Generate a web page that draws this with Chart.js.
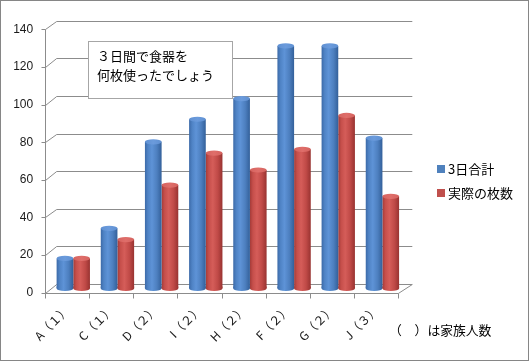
<!DOCTYPE html>
<html><head><meta charset="utf-8">
<script src="https://cdn.jsdelivr.net/npm/chart.js@4.4.1/dist/chart.umd.min.js"></script>
<style>html,body{margin:0;padding:0;background:#fff}canvas{display:block}</style>
</head><body>
<canvas id="c" width="529" height="363"></canvas>
<script>
const categories = ["A（１）","C（１）","D（２）","I（２）","H（２）","F（２）","G（２）","J（３）"];
const series1Name = "3日合計";
const series2Name = "実際の枚数";
const totals3Days = [16, 32, 78, 90, 101, 129, 129, 80];
const actualCounts = [16, 26, 55, 72, 63, 74, 92, 49];
const yTicks = [0, 20, 40, 60, 80, 100, 120, 140];
const titleLines = ["３日間で食器を", "何枚使ったでしょう"];
const noteText = "（　）は家族人数";

const CAT_PCT = 0.755;
const depth = {frontDx: -6.2, frontDy: 4.2, backDxL: 5.5, backDxR: 7.8, backDy: -4.5};
const blueStops = [[0,'#3c6aa8'],[0.18,'#4f83c5'],[0.42,'#5e93d7'],[0.72,'#4d7fbf'],[1,'#33609a']];
const redStops  = [[0,'#a43b38'],[0.18,'#c64f4b'],[0.42,'#d55d59'],[0.72,'#c04a47'],[1,'#983331']];
const blueTop = '#5f90d2', redTop = '#d5635f';
const JP = "'Noto Sans CJK JP', sans-serif";

function cylGradient(g2d, x0, w, stops){
  const g = g2d.createLinearGradient(x0, 0, x0 + w, 0);
  stops.forEach(s => g.addColorStop(s[0], s[1]));
  return g;
}
function barFill(c, stops, fallback){
  const ch = c.chart, xs = ch.scales && ch.scales.x;
  if (!ch.chartArea || !xs || c.dataIndex === undefined) return fallback;
  const catW = xs.width / categories.length;
  const size = catW * CAT_PCT, bw = size / 2;
  const cx = xs.getPixelForValue(c.dataIndex);
  const x0 = cx - size / 2 + bw * c.datasetIndex;
  return cylGradient(ch.ctx, x0, bw, stops);
}

const wallPlugin = {
  id: 'walls',
  beforeDatasetsDraw(chart){
    const {ctx, chartArea: ca, scales: {y: ys}} = chart;
    const fl = ca.left + depth.frontDx, fr = ca.right + depth.frontDx;
    const bl = ca.left + depth.backDxL, br = ca.right + depth.backDxR;
    ctx.save();
    ctx.strokeStyle = '#8c8c8c'; ctx.lineWidth = 1;
    ctx.beginPath();
    const xl = Math.round(fl) + 0.5;
    yTicks.forEach(v => {
      const ym = ys.getPixelForValue(v);
      const yf = Math.round(ym + depth.frontDy) + 0.5, yb = Math.round(ym + depth.backDy) + 0.5;
      ctx.moveTo(xl, yf); ctx.lineTo(bl, yb); ctx.lineTo(br, yb);
      ctx.moveTo(xl - 4, yf); ctx.lineTo(xl, yf);
    });
    const y0f = Math.round(ys.getPixelForValue(0) + depth.frontDy) + 0.5;
    const y0b = Math.round(ys.getPixelForValue(0) + depth.backDy) + 0.5;
    const ytf = Math.round(ys.getPixelForValue(yTicks[yTicks.length-1]) + depth.frontDy) + 0.5;
    ctx.moveTo(xl, ytf); ctx.lineTo(xl, y0f);
    ctx.moveTo(xl, y0f); ctx.lineTo(fr, y0f); ctx.lineTo(br, y0b);
    const n = categories.length;
    for (let k = 0; k <= n; k++) {
      const x = Math.round(fl + (fr - fl) * k / n) + 0.5;
      ctx.moveTo(x, y0f); ctx.lineTo(x, y0f + 5);
    }
    ctx.stroke();
    ctx.restore();
  },
  afterDatasetsDraw(chart){
    const ctx = chart.ctx;
    const ry = 2.6;
    chart.data.datasets.forEach((ds, di) => {
      const meta = chart.getDatasetMeta(di);
      const stops = di === 0 ? blueStops : redStops;
      const topC = di === 0 ? blueTop : redTop;
      meta.data.forEach(el => {
        const w = el.width, x0 = el.x - w / 2;
        ctx.save();
        ctx.fillStyle = cylGradient(ctx, x0, w, stops);
        ctx.beginPath();
        ctx.rect(x0, el.base - 2, w, 2);
        ctx.ellipse(el.x, el.base, w / 2, ry, 0, 0, Math.PI);
        ctx.fill();
        const tg = ctx.createLinearGradient(x0, 0, x0 + w, 0);
        tg.addColorStop(0, topC); tg.addColorStop(0.5, di === 0 ? '#6b9bdc' : '#df6e6a'); tg.addColorStop(1, topC);
        ctx.fillStyle = tg;
        ctx.beginPath();
        ctx.ellipse(el.x, el.y, w / 2, ry, 0, 0, Math.PI * 2);
        ctx.fill();
        ctx.restore();
      });
    });
  },
  afterDraw(chart){
    const ctx = chart.ctx;
    ctx.save();
    // title box
    ctx.fillStyle = '#fff';
    ctx.fillRect(88, 41, 145, 58);
    ctx.strokeStyle = '#a6a6a6'; ctx.lineWidth = 1;
    ctx.strokeRect(88.5, 41.5, 144, 57);
    ctx.fillStyle = '#000';
    ctx.font = "13px " + JP;
    ctx.textBaseline = 'middle'; ctx.textAlign = 'left';
    ctx.fillText(titleLines[0], 97, 56.5);
    ctx.fillText(titleLines[1], 97, 75);
    // legend
    const items = [[series1Name, '#4F81BD', 169], [series2Name, '#C0504D', 193]];
    items.forEach(it => {
      ctx.fillStyle = it[1];
      ctx.fillRect(437, it[2] - 4, 8, 8);
      ctx.fillStyle = '#000';
      ctx.fillText(it[0], 448, it[2]);
    });
    // note
    ctx.font = "12.8px " + JP;
    ctx.fillText(noteText, 389, 330);
    // outer border
    ctx.strokeStyle = '#868686';
    ctx.strokeRect(0.5, 0.5, 528, 360);
    ctx.restore();
  }
};

new Chart(document.getElementById('c'), {
  type: 'bar',
  data: {
    labels: categories,
    datasets: [
      {label: series1Name, data: totals3Days, backgroundColor: c => barFill(c, blueStops, '#4F81BD'), borderWidth: 0},
      {label: series2Name, data: actualCounts, backgroundColor: c => barFill(c, redStops, '#C0504D'), borderWidth: 0}
    ]
  },
  options: {
    responsive: false,
    animation: false,
    devicePixelRatio: 1,
    layout: {padding: {left: 0, top: 23.1, right: 124.5, bottom: 0}},
    plugins: {legend: {display: false}, tooltip: {enabled: false}},
    datasets: {bar: {categoryPercentage: CAT_PCT, barPercentage: 1.0}},
    scales: {
      x: {
        grid: {display: false, drawTicks: false},
        border: {display: false},
        ticks: {
          autoSkip: false, minRotation: 45, maxRotation: 45, padding: 14, labelOffset: -6,
          color: '#1a1a1a', font: {size: 12, family: "'Noto Sans CJK JP', sans-serif"}
        },
        afterFit: s => { s.height = 74.5; }
      },
      y: {
        min: 0, max: 140,
        grid: {display: false, drawTicks: false},
        border: {display: false},
        ticks: {
          stepSize: 20, padding: 18, labelOffset: 4.2,
          color: '#1a1a1a', font: {size: 12, family: "'Liberation Sans', sans-serif"}
        },
        afterBuildTicks: s => { s.ticks = yTicks.map(v => ({value: v})); },
        afterFit: s => { s.width = 51.2; }
      }
    }
  },
  plugins: [wallPlugin]
});
</script>
</body></html>
